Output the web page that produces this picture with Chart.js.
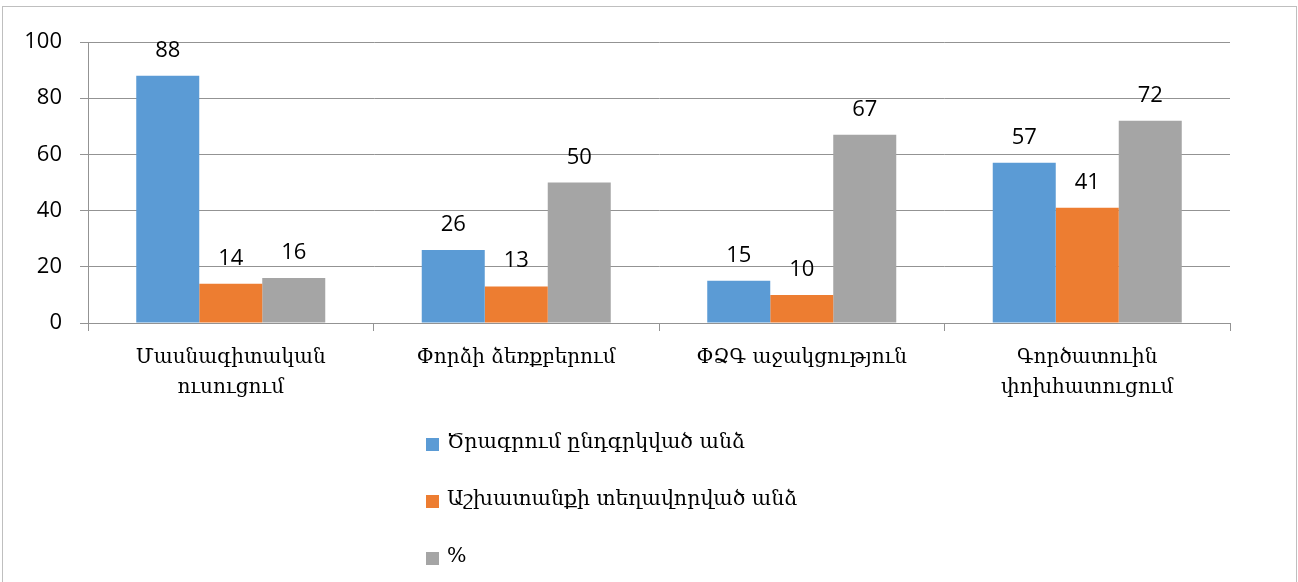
<!DOCTYPE html>
<html>
<head>
<meta charset="utf-8">
<script src="https://cdn.jsdelivr.net/npm/chart.js@4.4.1/dist/chart.umd.min.js"></script>
<style>
  html, body { margin: 0; padding: 0; background: #fff; }
  #wrap { position: relative; width: 1298px; height: 582px; overflow: hidden; }
  #frame { position: absolute; left: 2px; top: 6px; width: 1295px; height: 600px; border: 1px solid #bfbfbf; box-sizing: border-box; }
  canvas { position: absolute; left: 0; top: 0; }
  #legend { position: absolute; left: 426px; top: 429px; font-family: "DejaVu Serif", serif; font-size: 20.5px; color: #000; }
  .li { height: 57px; display: flex; align-items: flex-start; }
  .sw { width: 13px; height: 13px; margin-top: 9px; margin-right: 8px; }
</style>
</head>
<body>
<div id="wrap">
  <div id="frame"></div>
  <canvas id="c" width="1298" height="582"></canvas>
  <div id="legend"></div>
</div>
<script>
const categories = [
  ['Մասնագիտական', 'ուսուցում'],
  'Փորձի ձեռքբերում',
  'ՓՁԳ աջակցություն',
  ['Գործատուին', 'փոխհատուցում']
];
const seriesNames = ['Ծրագրում ընդգրկված անձ', 'Աշխատանքի տեղավորված անձ', '%'];
const enrolled = [88, 26, 15, 57];
const employed = [14, 13, 10, 41];
const percent = [16, 50, 67, 72];
const yTicks = [0, 20, 40, 60, 80, 100];
const colors = ['#5B9BD5', '#ED7D31', '#A5A5A5'];

const valueLabels = {
  id: 'valueLabels',
  afterDatasetsDraw(chart) {
    const ctx = chart.ctx;
    ctx.save();
    ctx.font = '22px "Open Sans", sans-serif';
    ctx.fillStyle = '#000';
    ctx.textAlign = 'center';
    ctx.textBaseline = 'alphabetic';
    chart.data.datasets.forEach((ds, i) => {
      const meta = chart.getDatasetMeta(i);
      meta.data.forEach((el, j) => {
        ctx.fillText(String(ds.data[j]), el.x, el.y - 19);
      });
    });
    ctx.restore();
  }
};

const chart = new Chart(document.getElementById('c'), {
  type: 'bar',
  data: {
    labels: categories,
    datasets: [
      { label: seriesNames[0], data: enrolled, backgroundColor: colors[0] },
      { label: seriesNames[1], data: employed, backgroundColor: colors[1] },
      { label: seriesNames[2], data: percent, backgroundColor: colors[2] }
    ]
  },
  options: {
    responsive: false,
    animation: false,
    devicePixelRatio: 1,
    layout: { padding: { top: 42, right: 68, left: 0, bottom: 0 } },
    datasets: { bar: { categoryPercentage: 0.662, barPercentage: 1.0 } },
    plugins: { legend: { display: false }, tooltip: { enabled: false } },
    scales: {
      x: {
        afterFit(s) { s.height = 582 - 323; },
        grid: { display: true, drawOnChartArea: false, offset: true, tickLength: 8, color: '#939393' },
        border: { display: true, color: '#939393', width: 1 },
        ticks: {
          color: '#000',
          padding: 12,
          maxRotation: 0,
          autoSkip: false,
          font: { family: '"DejaVu Serif", serif', size: 20, lineHeight: 1.5 }
        }
      },
      y: {
        min: 0, max: 100,
        afterFit(s) { s.width = 88; },
        afterBuildTicks(s) { s.ticks = yTicks.map(v => ({ value: v })); },
        grid: { color: '#939393', tickLength: 8, lineWidth: 1 },
        border: { display: true, color: '#939393', width: 1 },
        ticks: {
          color: '#000',
          padding: 18,
          font: { family: '"Open Sans", sans-serif', size: 22 }
        }
      }
    }
  },
  plugins: [valueLabels]
});

const leg = document.getElementById('legend');
chart.data.datasets.forEach(ds => {
  const row = document.createElement('div');
  row.className = 'li';
  const sw = document.createElement('span');
  sw.className = 'sw';
  sw.style.background = ds.backgroundColor;
  const tx = document.createElement('span');
  tx.textContent = ds.label;
  row.appendChild(sw);
  row.appendChild(tx);
  leg.appendChild(row);
});
</script>
</body>
</html>
